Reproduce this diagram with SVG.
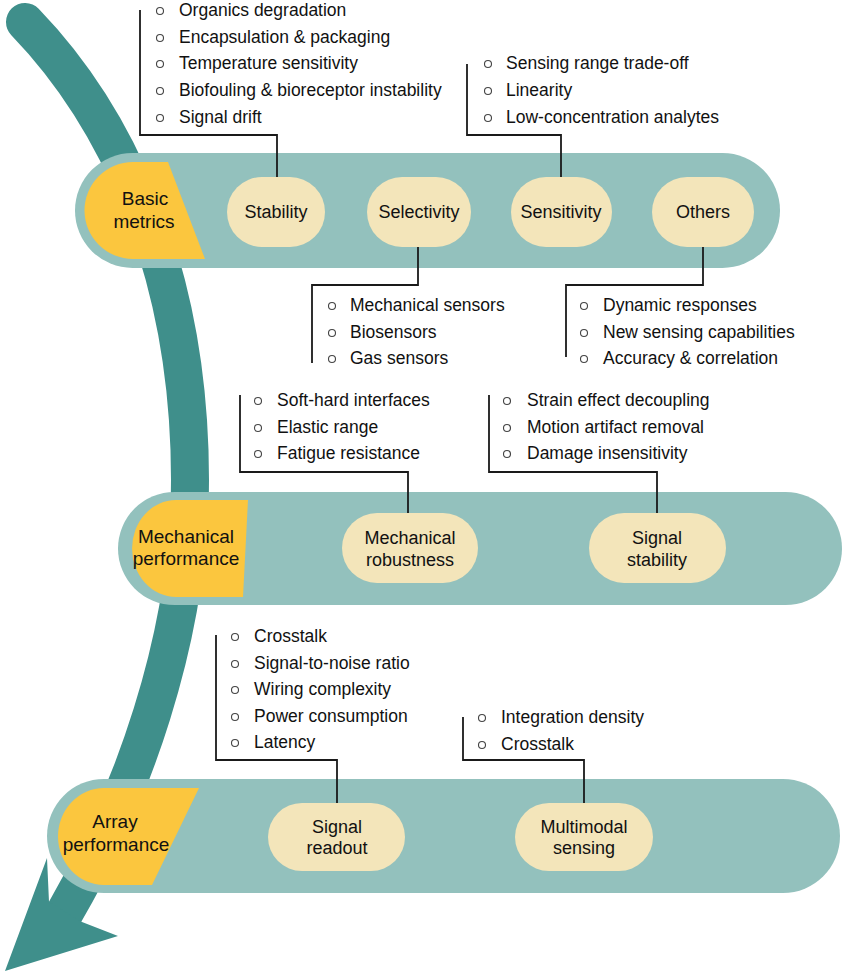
<svg xmlns="http://www.w3.org/2000/svg" width="847" height="975" viewBox="0 0 847 975">
<style>
.band{fill:#93C1BD}
.tag{fill:#FBC63E}
.pill{fill:#F3E5BA}
.tagt{font-family:"Liberation Sans",Arial,sans-serif;font-size:19px;fill:#111;text-anchor:middle}
.pt{font-family:"Liberation Sans",Arial,sans-serif;font-size:18px;fill:#111;text-anchor:middle}
.li{font-family:"Liberation Sans",Arial,sans-serif;font-size:17.5px;fill:#111}
.b{fill:none;stroke:#444;stroke-width:1.1}
.con{fill:none;stroke:#1a1a1a;stroke-width:1.8}
</style>
<rect width="847" height="975" fill="#fff"/>
<g id="flow-arrow">
<path d="M25,22 C110,110 190,260 190,480 C190,640 130,800 65,912" fill="none" stroke="#3F8F8B" stroke-width="38" stroke-linecap="round"/>
<polygon points="47,858 49,902 82,922 118,936 5,971" fill="#3F8F8B"/>
</g>
<g id="band-basic">
<rect class="band" x="75" y="153" width="705" height="115" rx="57.5"/>
</g>
<g id="band-mech">
<rect class="band" x="118" y="492" width="724" height="113" rx="56.5"/>
</g>
<g id="band-array">
<rect class="band" x="47" y="779" width="793" height="114" rx="57"/>
</g>
<g id="tag-basic">
<path class="tag" d="M133,162 L168,162 L205,259 L133,259 A48.5,48.5 0 0 1 133,162 Z"/>
<text class="tagt" x="145" y="205">Basic</text>
<text class="tagt" x="144" y="228">metrics</text>
</g>
<g id="tag-mech">
<path class="tag" d="M176,500 L248,500 L243,597 L176,597 A44,48.5 0 0 1 176,500 Z"/>
<text class="tagt" x="186" y="543">Mechanical</text>
<text class="tagt" x="186" y="565">performance</text>
</g>
<g id="tag-array">
<path class="tag" d="M104,788 L199,788 L152,885 L104,885 A46,48.5 0 0 1 104,788 Z"/>
<text class="tagt" x="115" y="828">Array</text>
<text class="tagt" x="116" y="851">performance</text>
</g>
<g id="stability">
<rect class="pill" x="227" y="177" width="98" height="70" rx="35"/>
<text class="pt" x="276" y="218">Stability</text>
</g>
<g id="selectivity">
<rect class="pill" x="367" y="177" width="104" height="70" rx="35"/>
<text class="pt" x="419" y="218">Selectivity</text>
</g>
<g id="sensitivity">
<rect class="pill" x="511" y="177" width="101" height="70" rx="35"/>
<text class="pt" x="561" y="218">Sensitivity</text>
</g>
<g id="others">
<rect class="pill" x="652" y="177" width="102" height="70" rx="35"/>
<text class="pt" x="703" y="218">Others</text>
</g>
<g id="mech-robustness">
<rect class="pill" x="342" y="513" width="136" height="70" rx="35"/>
<text class="pt" x="410" y="544">Mechanical</text>
<text class="pt" x="410" y="566">robustness</text>
</g>
<g id="signal-stability">
<rect class="pill" x="589" y="513" width="137" height="70" rx="35"/>
<text class="pt" x="657" y="544">Signal</text>
<text class="pt" x="657" y="566">stability</text>
</g>
<g id="signal-readout">
<rect class="pill" x="268" y="803" width="137" height="68" rx="34"/>
<text class="pt" x="337" y="833">Signal</text>
<text class="pt" x="337" y="854">readout</text>
</g>
<g id="multimodal-sensing">
<rect class="pill" x="515" y="803" width="138" height="68" rx="34"/>
<text class="pt" x="584" y="833">Multimodal</text>
<text class="pt" x="584" y="854">sensing</text>
</g>
<g id="connectors">
<polyline class="con" points="140,10 140,135 277,135 277,177"/>
<polyline class="con" points="467,64 467,135 561,135 561,177"/>
<polyline class="con" points="312,363 312,285 418,285 418,247"/>
<polyline class="con" points="566,357 566,285 703,285 703,247"/>
<polyline class="con" points="240,395 240,472 408,472 408,513"/>
<polyline class="con" points="489,395 489,472 657,472 657,513"/>
<polyline class="con" points="216,635 216,760 337,760 337,803"/>
<polyline class="con" points="463,717 463,760 584,760 584,803"/>
</g>
<g id="list-stability">
<circle class="b" cx="160" cy="11" r="3.5"/><text class="li" x="179" y="16">Organics degradation</text>
<circle class="b" cx="160" cy="38" r="3.5"/><text class="li" x="179" y="43">Encapsulation &amp; packaging</text>
<circle class="b" cx="160" cy="64" r="3.5"/><text class="li" x="179" y="69">Temperature sensitivity</text>
<circle class="b" cx="160" cy="91" r="3.5"/><text class="li" x="179" y="96">Biofouling &amp; bioreceptor instability</text>
<circle class="b" cx="160" cy="118" r="3.5"/><text class="li" x="179" y="123">Signal drift</text>
</g>
<g id="list-sensitivity">
<circle class="b" cx="488" cy="64" r="3.5"/><text class="li" x="506" y="69">Sensing range trade-off</text>
<circle class="b" cx="488" cy="91" r="3.5"/><text class="li" x="506" y="96">Linearity</text>
<circle class="b" cx="488" cy="118" r="3.5"/><text class="li" x="506" y="123">Low-concentration analytes</text>
</g>
<g id="list-selectivity">
<circle class="b" cx="332" cy="306" r="3.5"/><text class="li" x="350" y="311">Mechanical sensors</text>
<circle class="b" cx="332" cy="333" r="3.5"/><text class="li" x="350" y="338">Biosensors</text>
<circle class="b" cx="332" cy="359" r="3.5"/><text class="li" x="350" y="364">Gas sensors</text>
</g>
<g id="list-others">
<circle class="b" cx="584" cy="306" r="3.5"/><text class="li" x="603" y="311">Dynamic responses</text>
<circle class="b" cx="584" cy="333" r="3.5"/><text class="li" x="603" y="338">New sensing capabilities</text>
<circle class="b" cx="584" cy="359" r="3.5"/><text class="li" x="603" y="364">Accuracy &amp; correlation</text>
</g>
<g id="list-mech">
<circle class="b" cx="258" cy="401" r="3.5"/><text class="li" x="277" y="406">Soft-hard interfaces</text>
<circle class="b" cx="258" cy="428" r="3.5"/><text class="li" x="277" y="433">Elastic range</text>
<circle class="b" cx="258" cy="454" r="3.5"/><text class="li" x="277" y="459">Fatigue resistance</text>
</g>
<g id="list-signal-stability">
<circle class="b" cx="507" cy="401" r="3.5"/><text class="li" x="527" y="406">Strain effect decoupling</text>
<circle class="b" cx="507" cy="428" r="3.5"/><text class="li" x="527" y="433">Motion artifact removal</text>
<circle class="b" cx="507" cy="454" r="3.5"/><text class="li" x="527" y="459">Damage insensitivity</text>
</g>
<g id="list-readout">
<circle class="b" cx="235" cy="637" r="3.5"/><text class="li" x="254" y="642">Crosstalk</text>
<circle class="b" cx="235" cy="664" r="3.5"/><text class="li" x="254" y="669">Signal-to-noise ratio</text>
<circle class="b" cx="235" cy="690" r="3.5"/><text class="li" x="254" y="695">Wiring complexity</text>
<circle class="b" cx="235" cy="717" r="3.5"/><text class="li" x="254" y="722">Power consumption</text>
<circle class="b" cx="235" cy="743" r="3.5"/><text class="li" x="254" y="748">Latency</text>
</g>
<g id="list-multimodal">
<circle class="b" cx="482" cy="718" r="3.5"/><text class="li" x="501" y="723">Integration density</text>
<circle class="b" cx="482" cy="745" r="3.5"/><text class="li" x="501" y="750">Crosstalk</text>
</g>
</svg>
